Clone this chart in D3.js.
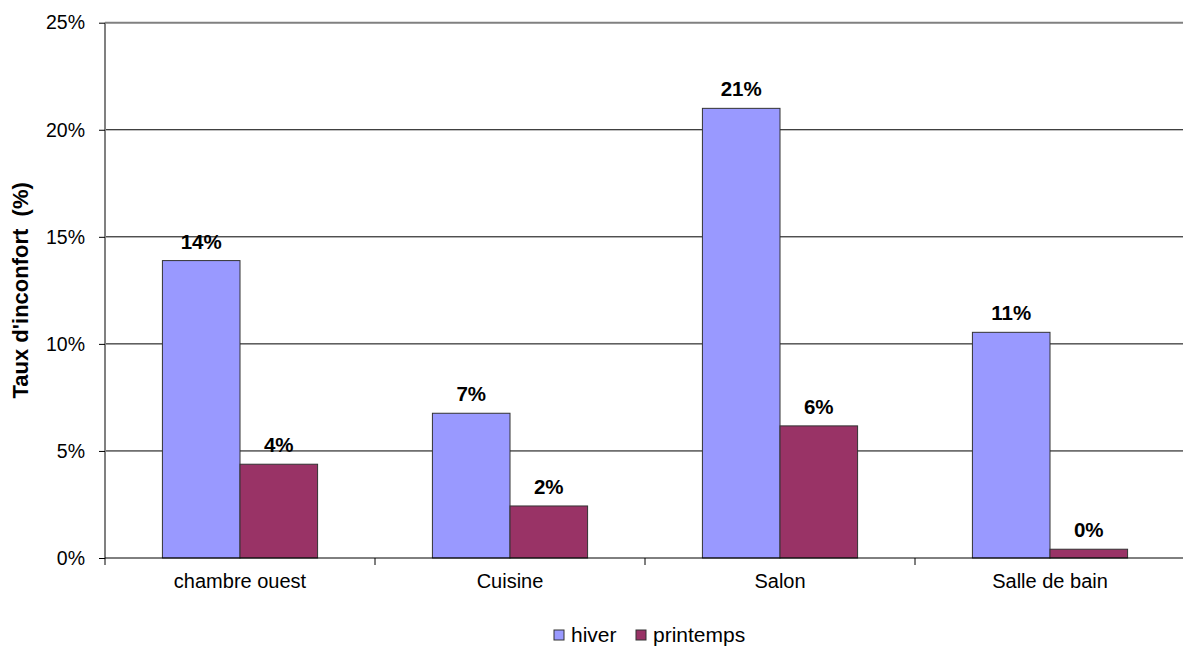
<!DOCTYPE html>
<html><head><meta charset="utf-8">
<script src="https://cdn.jsdelivr.net/npm/d3@7"></script>
<style>body{margin:0;background:#fff;}svg{display:block;font-family:"Liberation Sans",Arial,sans-serif;}</style>
</head><body>
<svg id="c" width="1183" height="647"></svg>
<script>
const categories = ["chambre ouest", "Cuisine", "Salon", "Salle de bain"];
const seriesNames = ["hiver", "printemps"];
const hiver = [13.89, 6.76, 21.0, 10.54];
const printemps = [4.38, 2.43, 6.17, 0.41];
const yTicks = [0, 5, 10, 15, 20, 25];
const colors = ["#9999FF", "#993366"];

const svg = d3.select("#c");
const L = 105, R = 1185, T = 22.7, B = 558;
const x = d3.scaleBand().domain(categories).range([L, R]);
const y = d3.scaleLinear().domain([0, 25]).range([B, T]);
const inner = d3.scaleBand().domain(seriesNames).range([0, x.bandwidth()]).paddingOuter(0.74).paddingInner(0);

// gridlines
svg.append("g").selectAll("line").data(yTicks.slice(1, -1)).join("line")
  .attr("x1", L).attr("x2", R).attr("y1", d => y(d)).attr("y2", d => y(d))
  .attr("stroke", "#000").attr("stroke-width", 1);
// top border
svg.append("line").attr("x1", L).attr("x2", R).attr("y1", y(25)).attr("y2", y(25))
  .attr("stroke", "#808080").attr("stroke-width", 2);

// bars
const data = [];
categories.forEach((c, i) => {
  data.push({c, s: "hiver", v: hiver[i]});
  data.push({c, s: "printemps", v: printemps[i]});
});
svg.append("g").selectAll("rect").data(data).join("rect")
  .attr("x", d => x(d.c) + inner(d.s))
  .attr("width", inner.bandwidth())
  .attr("y", d => y(d.v))
  .attr("height", d => B - y(d.v))
  .attr("fill", d => colors[seriesNames.indexOf(d.s)])
  .attr("stroke", "#333").attr("stroke-width", 1);

// value labels
svg.append("g").selectAll("text").data(data).join("text")
  .attr("x", d => x(d.c) + inner(d.s) + inner.bandwidth() / 2)
  .attr("y", d => y(d.v) - 12)
  .attr("text-anchor", "middle")
  .attr("font-size", 20.5).attr("font-weight", "bold").attr("fill", "#000")
  .text(d => Math.round(d.v) + "%");

// y axis
const yAxis = d3.axisLeft(y).tickValues(yTicks).tickFormat(d => d + "%").tickSize(6).tickPadding(14);
const ga = svg.append("g").attr("transform", `translate(${L},0)`).call(yAxis);
ga.select(".domain").attr("stroke", "#808080").attr("stroke-width", 2).attr("d", `M0,${T}V${B + 7}`);
ga.selectAll(".tick line").attr("stroke", "#000");
ga.selectAll(".tick text").attr("font-size", 19.5).attr("fill", "#000").attr("font-family", "Liberation Sans, Arial, sans-serif");

// x axis
const xAxis = d3.axisBottom(x).tickSize(0).tickPadding(16);
const gx = svg.append("g").attr("transform", `translate(0,${B})`).call(xAxis);
gx.select(".domain").attr("stroke", "#000").attr("stroke-width", 1).attr("d", `M${L},0H${R}`);
gx.selectAll(".tick text").attr("font-size", 20).attr("fill", "#000").attr("font-family", "Liberation Sans, Arial, sans-serif");
// x tick marks between categories
svg.append("g").selectAll("line").data(categories.slice(1)).join("line")
  .attr("x1", d => x(d)).attr("x2", d => x(d)).attr("y1", B).attr("y2", B + 7)
  .attr("stroke", "#000");

// y title
svg.append("text").attr("transform", `translate(28,${(T + B) / 2}) rotate(-90)`)
  .attr("text-anchor", "middle").attr("font-size", 22).attr("font-weight", "bold")
  .attr("xml:space", "preserve")
  .text("Taux d'inconfort  (%)");

// legend
const legX = [554, 636];
const lg = svg.append("g").selectAll("g").data(seriesNames).join("g")
  .attr("transform", (d, i) => `translate(${legX[i]},630)`);
lg.append("rect").attr("width", 10).attr("height", 10)
  .attr("fill", (d, i) => colors[i]).attr("stroke", "#333").attr("stroke-width", 1);
lg.append("text").attr("x", 17).attr("y", 12).attr("font-size", 21).attr("fill", "#000").text(d => d);
</script>
</body></html>
